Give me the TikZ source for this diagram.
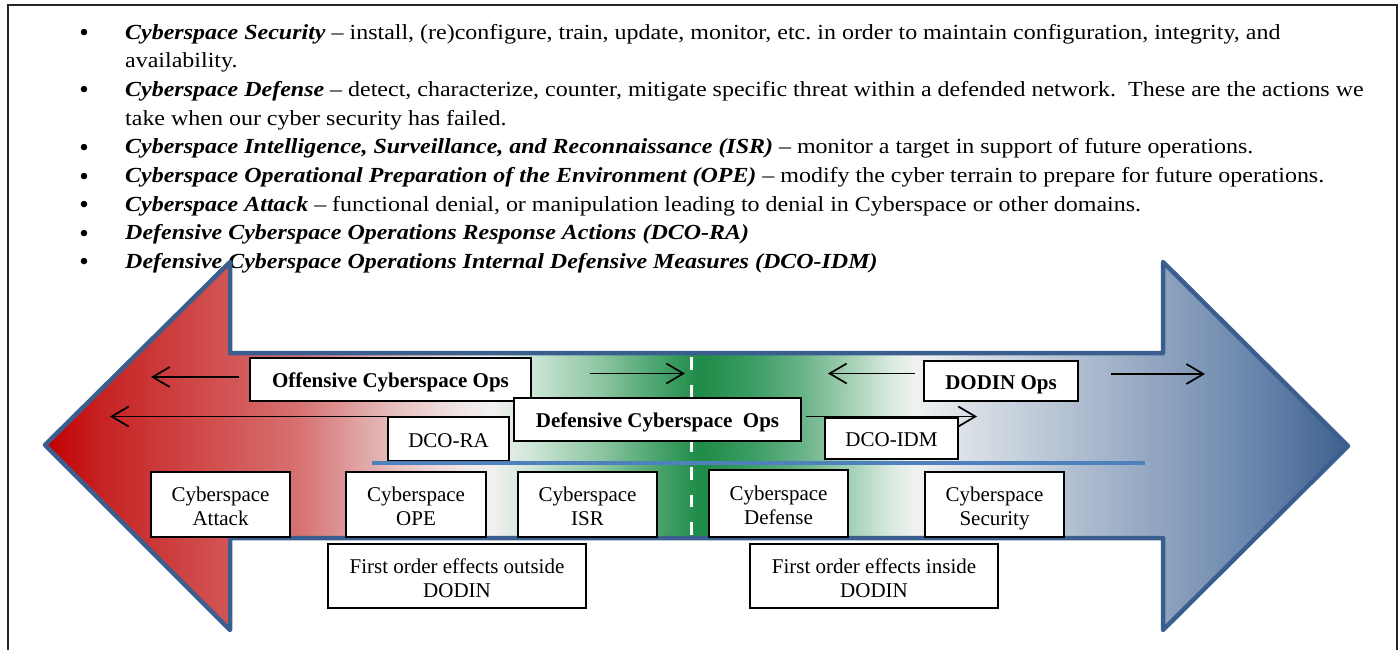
\documentclass[tikz,border=0pt]{standalone}
\usepackage{fontspec}
\setmainfont{Liberation Serif}
\newfontfamily\listfont[FakeStretch=1.115]{Liberation Serif}
\usetikzlibrary{arrows.meta}
\definecolor{g0}{HTML}{C00000}
\definecolor{g1}{HTML}{C62222}
\definecolor{g2}{HTML}{D35555}
\definecolor{g3}{HTML}{D77272}
\definecolor{g4}{HTML}{E0A4A4}
\definecolor{g5}{HTML}{E8C2C2}
\definecolor{g6}{HTML}{F0E4E4}
\definecolor{g7}{HTML}{F2F1F1}
\definecolor{g8}{HTML}{D0E6D8}
\definecolor{g9}{HTML}{B2D8C0}
\definecolor{g10}{HTML}{8CC6A2}
\definecolor{g11}{HTML}{52A874}
\definecolor{g12}{HTML}{1E8B47}
\definecolor{g13}{HTML}{3A9C62}
\definecolor{g14}{HTML}{66B286}
\definecolor{g15}{HTML}{A4D0B4}
\definecolor{g16}{HTML}{D8EADF}
\definecolor{g17}{HTML}{F0F2F0}
\definecolor{g18}{HTML}{DDE2E8}
\definecolor{g19}{HTML}{B6C3D3}
\definecolor{g20}{HTML}{8FA3BF}
\definecolor{g21}{HTML}{6A87AE}
\definecolor{g22}{HTML}{3F608F}
\definecolor{arrowblue}{HTML}{3A5F8E}
\definecolor{lineblue}{HTML}{4F81BD}
\pgfdeclarehorizontalshading{cybershade}{100bp}{color(0bp)=(g0); color(25bp)=(g0); color(27.11bp)=(g1); color(32.10bp)=(g2); color(34.79bp)=(g3); color(37.09bp)=(g4); color(38.62bp)=(g5); color(40.92bp)=(g6); color(42.10bp)=(g7); color(43.61bp)=(g8); color(44.76bp)=(g9); color(46.30bp)=(g10); color(48.21bp)=(g11); color(50.13bp)=(g12); color(52.05bp)=(g13); color(53.97bp)=(g14); color(55.89bp)=(g15); color(57.42bp)=(g16); color(58.38bp)=(g17); color(60.11bp)=(g18); color(63.95bp)=(g19); color(67.90bp)=(g20); color(71.24bp)=(g21); color(75bp)=(g22); color(100bp)=(g22)}
\tikzset{
  boxnode/.style={draw=black, line width=1.3pt, fill=white, inner sep=0pt, align=center, font=\fontsize{21}{24}\selectfont},
  onebox/.style={boxnode, text height=16pt, text depth=0pt},
  opsbox/.style={onebox, font=\fontsize{21}{24}\selectfont\bfseries},
  thinarrow/.style={line width=1.7pt, -{Straight Barb[length=17pt,width=20pt]}},
  bulletline/.style={anchor=base west, inner sep=0pt, font=\listfont\fontsize{21.5}{28}\selectfont\frenchspacing},
  bulletmark/.style={anchor=base, inner sep=0pt, font=\fontsize{27}{27}\selectfont},
}
\newcommand{\bi}[1]{\textbf{\textit{#1}}}
\newcommand{\boxlines}[2]{\rule{0pt}{26pt}#1\\#2\strut}
\begin{document}
\begin{tikzpicture}[x=1pt,y=-1pt]
\useasboundingbox (0,0) rectangle (1400,650);
% frame
\draw[line width=2pt, color=black!85] (7.5,650) -- (7.5,5.5) -- (1396.5,5.5) -- (1396.5,650);
% bullet list
\foreach \y/\n in {39.3/b1,96.6/b2,153.9/b3,182.6/b4,211.2/b5,239.9/b6,268.5/b7}
  \node[bulletmark] (\n) at (84,\y+2.4) {•};
\node[bulletline] (t1a) at (125,39.3) {\bi{Cyberspace Security} – install, (re)configure, train, update, monitor, etc. in order to maintain configuration, integrity, and};
\node[bulletline] (t1b) at (125,68.0) {availability.};
\node[bulletline] (t2a) at (125,96.6) {\bi{Cyberspace Defense} – detect, characterize, counter, mitigate specific threat within a defended network.\ \ These are the actions we};
\node[bulletline] (t2b) at (125,125.3) {take when our cyber security has failed.};
\node[bulletline] (t3) at (125,153.9) {\bi{Cyberspace Intelligence, Surveillance, and Reconnaissance (ISR)} – monitor a target in support of future operations.};
\node[bulletline] (t4) at (125,182.6) {\bi{Cyberspace Operational Preparation of the Environment (OPE)} – modify the cyber terrain to prepare for future operations.};
\node[bulletline] (t5) at (125,211.2) {\bi{Cyberspace Attack} – functional denial, or manipulation leading to denial in Cyberspace or other domains.};
\node[bulletline] (t6) at (125,239.9) {\bi{Defensive Cyberspace Operations Response Actions (DCO-RA)}};
\node[bulletline] (t7) at (125,268.5) {\bi{Defensive Cyberspace Operations Internal Defensive Measures (DCO-IDM)}};
% big double arrow
\draw[shading=cybershade, draw=arrowblue, line width=4.5pt, line join=round]
  (45,445) -- (230,262) -- (230,353) -- (1163,353) -- (1163,262) -- (1348,446)
  -- (1163,630) -- (1163,538) -- (230,538) -- (230,630) -- cycle;
% dashed divider
\draw[white, line width=3pt, dash pattern=on 12.5pt off 15pt] (691,357) -- (691,537);
% boxes
\node[opsbox, minimum width=281pt, minimum height=43pt] (off) at (390.5,379.5) {Offensive Cyberspace Ops};
\node[opsbox, minimum width=287pt, minimum height=43pt] (def) at (657.5,419.5) {Defensive Cyberspace\ \ Ops};
\node[opsbox, minimum width=154pt, minimum height=40pt] (dodin) at (1001,381) {DODIN Ops};
\node[onebox, minimum width=121pt, minimum height=44pt] (dcora) at (448.5,439) {DCO-RA};
\node[onebox, minimum width=133pt, minimum height=41pt] (dcoidm) at (891.5,438.5) {DCO-IDM};
\draw[color=lineblue, line width=4pt] (372,463) -- (1145,463);
\node[boxnode, minimum width=139pt, minimum height=65pt] (attack) at (220.5,504.5) {\boxlines{Cyberspace}{Attack}};
\node[boxnode, minimum width=140pt, minimum height=65pt] (ope) at (416,504.5) {\boxlines{Cyberspace}{OPE}};
\node[boxnode, minimum width=139pt, minimum height=65pt] (isr) at (587.5,504.5) {\boxlines{Cyberspace}{ISR}};
\node[boxnode, minimum width=139pt, minimum height=67pt] (defense) at (778.5,503.5) {\boxlines{Cyberspace}{Defense}};
\node[boxnode, minimum width=139pt, minimum height=65pt] (security) at (994.5,504.5) {\boxlines{Cyberspace}{Security}};
\node[boxnode, minimum width=258pt, minimum height=64pt] (outside) at (457,576) {\boxlines{First order effects outside}{DODIN}};
\node[boxnode, minimum width=248pt, minimum height=64pt] (inside) at (874,576) {\boxlines{First order effects inside}{DODIN}};
% arrows
\coordinate (a1s) at (239,377);   \coordinate (a1e) at (151,377);
\coordinate (a2s) at (433,416.5); \coordinate (a2e) at (110,416.5);
\coordinate (a3s) at (590,373.5); \coordinate (a3e) at (685,373.5);
\coordinate (a4s) at (915,373.5); \coordinate (a4e) at (828,373.5);
\coordinate (a5s) at (806,416.5); \coordinate (a5e) at (977,416.5);
\coordinate (a6s) at (1111,374);  \coordinate (a6e) at (1205,374);
\foreach \s/\e in {a1s/a1e,a2s/a2e,a3s/a3e,a4s/a4e,a5s/a5e,a6s/a6e}
  \draw[thinarrow] (\s) -- (\e);
\end{tikzpicture}
\end{document}
